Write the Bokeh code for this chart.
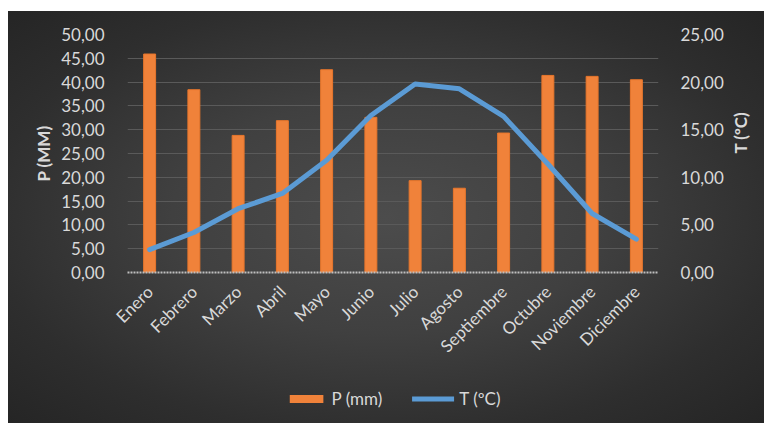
from math import pi
from bokeh.plotting import figure
from bokeh.models import (LinearAxis, Range1d, FactorRange, Legend, LegendItem,
                          CustomJSTickFormatter, SingleIntervalTicker, ColumnDataSource, Spacer)
from bokeh.layouts import column, row
from bokeh.embed import file_html
from bokeh.resources import INLINE

months = ["Enero", "Febrero", "Marzo", "Abril", "Mayo", "Junio", "Julio",
          "Agosto", "Septiembre", "Octubre", "Noviembre", "Diciembre"]
precip = [45.9, 38.4, 28.8, 31.9, 42.6, 32.6, 19.3, 17.7, 29.3, 41.4, 41.2, 40.5]
temp = [2.4, 4.2, 6.7, 8.3, 11.8, 16.5, 19.8, 19.3, 16.4, 11.4, 6.2, 3.5]
series_names = ["P (mm)", "T (ºC)"]

TXT = "#D9D9D9"
FONT = "Lato"
BAR_FILL = "#F0823A"
BAR_LINE = "#E8762C"
LINE_COLOR = "#5B9BD5"
BG_CSS = ("radial-gradient(ellipse farthest-corner at 50% 50%, "
          "#4c4c4c 0%, #404040 40%, #2e2e2e 75%, #252525 100%)")

src = ColumnDataSource(dict(m=months, p=precip, t=temp))

p = figure(width=756, height=362, x_range=FactorRange(*months, range_padding=0),
           y_range=Range1d(0, 50), output_backend="svg", toolbar_location=None,
           min_border_left=119, min_border_right=106, min_border_top=23,
           min_border_bottom=101)
p.background_fill_alpha = 0
p.border_fill_alpha = 0
p.outline_line_color = None
p.extra_y_ranges = {"temp": Range1d(0, 25)}

fmt = CustomJSTickFormatter(code="return tick.toFixed(2).replace('.', ',');")

bars = p.vbar(x="m", top="p", width=0.27, source=src, fill_color=BAR_FILL,
              line_color=BAR_LINE, line_width=1)
line = p.line(x="m", y="t", source=src, y_range_name="temp", line_color=LINE_COLOR,
              line_width=5, line_join="round", line_cap="round")

la = p.yaxis[0]
la.ticker = SingleIntervalTicker(interval=5)
la.formatter = fmt
la.axis_label = "P (MM)"
ra = LinearAxis(y_range_name="temp", ticker=SingleIntervalTicker(interval=5),
                formatter=fmt, axis_label="T (ºC)")
ra.axis_label_orientation = pi / 2
p.add_layout(ra, "right")
for ax in (la, ra):
    ax.axis_line_color = None
    ax.major_tick_line_color = None
    ax.minor_tick_line_color = None
    ax.major_tick_out = 0
    ax.major_tick_in = 0
    ax.major_label_text_color = TXT
    ax.major_label_text_font = FONT
    ax.major_label_text_font_size = "17px"
    ax.major_label_standoff = 19
    ax.axis_label_text_color = TXT
    ax.axis_label_text_font = FONT
    ax.axis_label_text_font_size = "17px"
    ax.axis_label_text_font_style = "bold"
la.axis_label_standoff = 4
ra.major_label_standoff = 18
ra.axis_label_standoff = 14

xa = p.xaxis[0]
xa.axis_line_color = "#BFBFBF"
xa.axis_line_width = 2
xa.axis_line_dash = "2 1"
xa.major_tick_line_color = None
xa.minor_tick_line_color = None
xa.major_tick_out = 0
xa.major_label_orientation = pi / 4
xa.major_label_text_color = TXT
xa.major_label_text_font = FONT
xa.major_label_text_font_size = "17px"
xa.major_label_standoff = 16

p.xgrid.grid_line_color = None
p.ygrid.grid_line_color = "#5A5A5A"
p.ygrid.grid_line_width = 1
p.ygrid.ticker = SingleIntervalTicker(interval=5)

# legend strip: same series styles (drawn with zero width / out of view) so the
# legend can sit below the rotated month labels
lg = figure(width=756, height=50, x_range=FactorRange(*months), y_range=Range1d(-1001, -1000),
            output_backend="svg", toolbar_location=None, min_border=0)
lg.background_fill_alpha = 0
lg.border_fill_alpha = 0
lg.outline_line_color = None
lg.axis.visible = False
lg.grid.grid_line_color = None
lbars = lg.vbar(x="m", top="p", width=0, source=src, fill_color=BAR_FILL,
                line_color=None)
lline = lg.line(x="m", y="t", source=src, line_color=LINE_COLOR, line_width=5,
                line_cap="round")
legend = Legend(items=[LegendItem(label=series_names[0], renderers=[lbars]),
                       LegendItem(label=series_names[1], renderers=[lline])],
                orientation="horizontal", location="center",
                background_fill_alpha=0, border_line_color=None,
                label_text_color=TXT, label_text_font=FONT,
                label_text_font_size="17px", glyph_width=42, glyph_height=10,
                spacing=30, padding=0, margin=0, label_standoff=5)
lg.add_layout(legend, "center")

inner = column(p, lg, spacing=0, styles={"background": BG_CSS})
layout = row(Spacer(width=8, height=423),
             column(Spacer(width=756, height=11), inner, spacing=0), spacing=0)
open("out.html", "w").write(file_html(layout, INLINE))
